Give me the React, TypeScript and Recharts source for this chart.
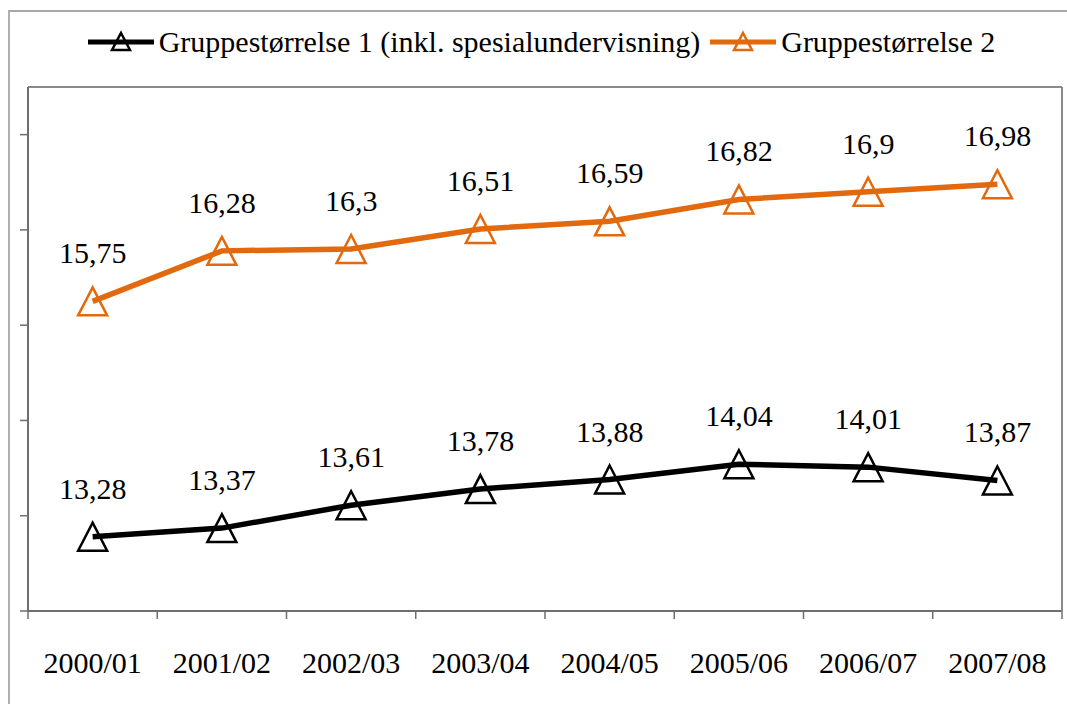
import { LineChart, Line, XAxis, YAxis, Legend, LabelList } from "recharts";

const years = ["2000/01", "2001/02", "2002/03", "2003/04", "2004/05", "2005/06", "2006/07", "2007/08"];
const gruppe1 = [13.28, 13.37, 13.61, 13.78, 13.88, 14.04, 14.01, 13.87];
const gruppe2 = [15.75, 16.28, 16.3, 16.51, 16.59, 16.82, 16.9, 16.98];
const yTicks = [12.5, 13.5, 14.5, 15.5, 16.5, 17.5];
const yDomain: [number, number] = [12.5, 18];

const SERIES = [
    { key: "g1", name: "Gruppestørrelse 1 (inkl. spesialundervisning)", color: "#000000" },
    { key: "g2", name: "Gruppestørrelse 2", color: "#e2690d" },
];

const data = years.map((year, i) => ({ year, g1: gruppe1[i], g2: gruppe2[i] }));
// category boundaries 0..n for the Excel-style tick marks between labels
const edgeTicks = years.map((_, i) => i).concat(years.length);

const FONT = "'Liberation Serif', 'Times New Roman', serif";

const noTick = () => <g />;

const triangle = (color: string) => (p: any) => {
    if (p.cx == null || p.cy == null) return <g key={`n-${p.index}`} />;
    return (
        <path
            key={`t-${p.index}`}
            d={`M${p.cx},${p.cy - 14} L${p.cx + 14.5},${p.cy + 14} L${p.cx - 14.5},${p.cy + 14} Z`}
            fill="none"
            stroke={color}
            strokeWidth={2.5}
        />
    );
};

const fmt = (v: any) => String(v).replace(".", ",");

function LegendBox() {
    return (
        <div
            style={{
                display: "flex",
                justifyContent: "center",
                alignItems: "center",
                fontFamily: FONT,
                fontSize: 30,
                lineHeight: "34px",
                color: "#000",
                paddingLeft: 6,
            }}
        >
            {SERIES.map((s, i) => (
                <div key={s.key} style={{ display: "flex", alignItems: "center", marginLeft: i ? 10 : 0 }}>
                    <svg width={66} height={34} style={{ marginRight: 5 }}>
                        <line x1={0} y1={17} x2={66} y2={17} stroke={s.color} strokeWidth={5} />
                        <path d="M33,8 L42,25 L24,25 Z" fill="none" stroke={s.color} strokeWidth={2.5} />
                    </svg>
                    <span>{s.name}</span>
                </div>
            ))}
        </div>
    );
}

export default function App() {
    return (
        <div style={{ position: "fixed", left: 0, top: 0, width: 1067, height: 704, background: "#fff", overflow: "hidden" }}>
            <div
                style={{
                    position: "absolute",
                    left: 8,
                    top: 10,
                    borderLeft: "2px solid #b0b0b0",
                    borderTop: "2px solid #a8a8a8",
                }}
            >
                <LineChart width={1057} height={692} data={data} margin={{ top: 74, right: 4, bottom: 33, left: 0 }}>
                    <Legend
                        verticalAlign="middle"
                        align="center"
                        content={<LegendBox />}
                        wrapperStyle={{ top: 13, left: 0, width: 1057 }}
                    />
                    <XAxis
                        xAxisId="b"
                        dataKey="year"
                        scale="band"
                        height={59}
                        axisLine={false}
                        tickLine={false}
                        tickSize={0}
                        tickMargin={40}
                        interval={0}
                        tick={{ fontFamily: FONT, fontSize: 30, fill: "#000" }}
                    />
                    <XAxis
                        xAxisId="a"
                        dataKey="edge"
                        type="number"
                        domain={[0, years.length]}
                        ticks={edgeTicks}
                        allowDataOverflow
                        height={1}
                        tick={noTick}
                        tickSize={8}
                        axisLine={{ stroke: "#6e6e6e", strokeWidth: 2 }}
                        tickLine={{ stroke: "#6e6e6e", strokeWidth: 1.5 }}
                    />
                    <XAxis
                        xAxisId="top"
                        orientation="top"
                        dataKey="edge"
                        type="number"
                        domain={[0, years.length]}
                        allowDataOverflow
                        height={1}
                        tick={noTick}
                        tickLine={false}
                        axisLine={{ stroke: "#8a8a8a", strokeWidth: 2 }}
                    />
                    <YAxis
                        yAxisId="left"
                        domain={yDomain}
                        ticks={yTicks}
                        allowDataOverflow
                        width={18}
                        tick={noTick}
                        tickSize={8}
                        axisLine={{ stroke: "#6e6e6e", strokeWidth: 2 }}
                        tickLine={{ stroke: "#6e6e6e", strokeWidth: 1.5 }}
                    />
                    <YAxis
                        yAxisId="right"
                        orientation="right"
                        domain={yDomain}
                        allowDataOverflow
                        width={1}
                        tick={noTick}
                        tickLine={false}
                        axisLine={{ stroke: "#8a8a8a", strokeWidth: 2 }}
                    />
                    {SERIES.map((s) => (
                        <Line
                            key={s.key}
                            xAxisId="b"
                            yAxisId="left"
                            dataKey={s.key}
                            name={s.name}
                            stroke={s.color}
                            strokeWidth={5.5}
                            dot={triangle(s.color)}
                            activeDot={false}
                            isAnimationActive={false}
                        >
                            <LabelList
                                dataKey={s.key}
                                position="top"
                                offset={38}
                                formatter={fmt}
                                style={{ fontFamily: FONT, fontSize: 30, fill: "#000" }}
                            />
                        </Line>
                    ))}
                </LineChart>
            </div>
        </div>
    );
}
